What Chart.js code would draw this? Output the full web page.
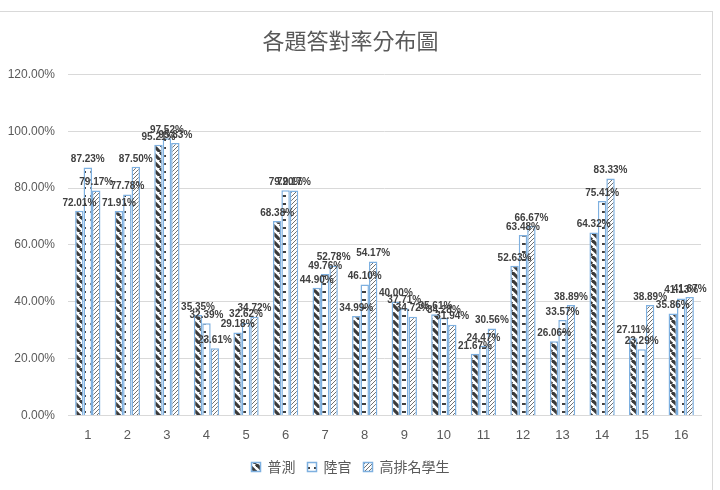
<!DOCTYPE html>
<html><head><meta charset="utf-8">
<script src="https://cdn.jsdelivr.net/npm/chart.js@4/dist/chart.umd.min.js"></script>
<style>
html,body{margin:0;padding:0;background:#fff;}
#wrap{position:relative;width:720px;height:490px;overflow:hidden;}
#frame{position:absolute;left:0;top:11px;width:713px;height:490px;border:1px solid #d9d9d9;border-left:none;box-sizing:border-box;}
canvas{position:absolute;left:0;top:0;}
</style></head><body>
<div id="wrap"><div id="frame"></div><canvas id="c" width="720" height="490"></canvas></div>
<script>
const categories = ['1','2','3','4','5','6','7','8','9','10','11','12','13','14','15','16'];
const seriesNames = ['普測','陸官','高排名學生'];
const general = [72.01,71.91,95.21,35.35,29.18,68.38,44.90,34.99,40.00,35.61,21.67,52.63,26.06,64.32,27.11,35.86];
const academy = [87.23,77.78,97.52,32.39,32.62,79.20,49.76,46.10,37.71,34.28,24.47,63.48,33.57,75.41,23.29,41.13];
const topStudents = [79.17,87.50,95.83,23.61,34.72,79.17,52.78,54.17,34.72,31.94,30.56,66.67,38.89,83.33,38.89,41.67];
const yTicks = [0,20,40,60,80,100,120];

function makePattern(kind){
  const s = 8;
  const c = document.createElement('canvas');
  c.width = s; c.height = s;
  const g = c.getContext('2d');
  g.fillStyle = '#fff'; g.fillRect(0,0,s,s);
  if(kind === 0){
    g.strokeStyle = '#3a3a3a'; g.lineWidth = 3.2;
    for(let k=-1;k<=1;k++){ g.beginPath(); g.moveTo(k*s, 0); g.lineTo(k*s+s, s); g.stroke(); }
  } else if(kind === 1){
    g.fillStyle = '#404040';
    g.fillRect(2,3,4,2);
  } else {
    g.strokeStyle = '#707070'; g.lineWidth = 1;
    for(let k=-2;k<=2;k++){ g.beginPath(); g.moveTo(k*4, s); g.lineTo(k*4+s, 0); g.stroke(); }
  }
  return g.createPattern(c,'repeat');
}
const ctx = document.getElementById('c').getContext('2d');
const seriesData = [general, academy, topStudents];

const labelPlugin = {
  id:'valueLabels',
  afterDatasetsDraw(chart){
    const c = chart.ctx;
    c.save();
    c.font = 'bold 10px "Liberation Sans", Arial, sans-serif';
    c.fillStyle = '#404040';
    c.textAlign = 'center';
    c.textBaseline = 'bottom';
    chart.data.datasets.forEach((ds,i)=>{
      const meta = chart.getDatasetMeta(i);
      meta.data.forEach((el,j)=>{
        c.fillText(ds.data[j].toFixed(2)+'%', el.x, el.y - 3);
      });
    });
    c.restore();
  }
};

new Chart(ctx,{
  type:'bar',
  data:{
    labels: categories,
    datasets: seriesNames.map((n,i)=>({
      label:n,
      data: seriesData[i],
      backgroundColor: makePattern(i),
      borderColor:'#7eb0e0',
      borderWidth:1.5,
      categoryPercentage:0.64,
      barPercentage:1.0
    }))
  },
  options:{
    responsive:false,
    animation:false,
    layout:{padding:{left:0,right:19,top:0,bottom:6}},
    plugins:{
      title:{display:true,text:'各題答對率分布圖',color:'#595959',
        font:{size:22,family:'"Noto Sans CJK TC", sans-serif',weight:'normal'},
        padding:{top:27,bottom:21}},
      legend:{position:'bottom',
        labels:{color:'#595959',boxWidth:9,boxHeight:9,padding:12,
          font:{size:14,family:'"Noto Sans CJK TC", sans-serif'}}},
      tooltip:{enabled:false}
    },
    scales:{
      x:{grid:{display:false,drawTicks:false},border:{color:'#d9d9d9'},
        afterFit(s){ s.height = s.height - 7; },
        ticks:{color:'#595959',padding:12,font:{size:13,family:'"Liberation Sans", sans-serif'}}},
      y:{min:0,max:120,
        afterBuildTicks(s){ s.ticks = yTicks.map(v=>({value:v})); },
        afterFit(s){ s.width = 68; },
        grid:{color:'#d9d9d9',drawTicks:false},border:{display:false},
        ticks:{color:'#595959',padding:13,font:{size:12,family:'"Liberation Sans", sans-serif'},
          callback:v=>v.toFixed(2)+'%'}}
    }
  },
  plugins:[labelPlugin]
});
</script>
</body></html>
